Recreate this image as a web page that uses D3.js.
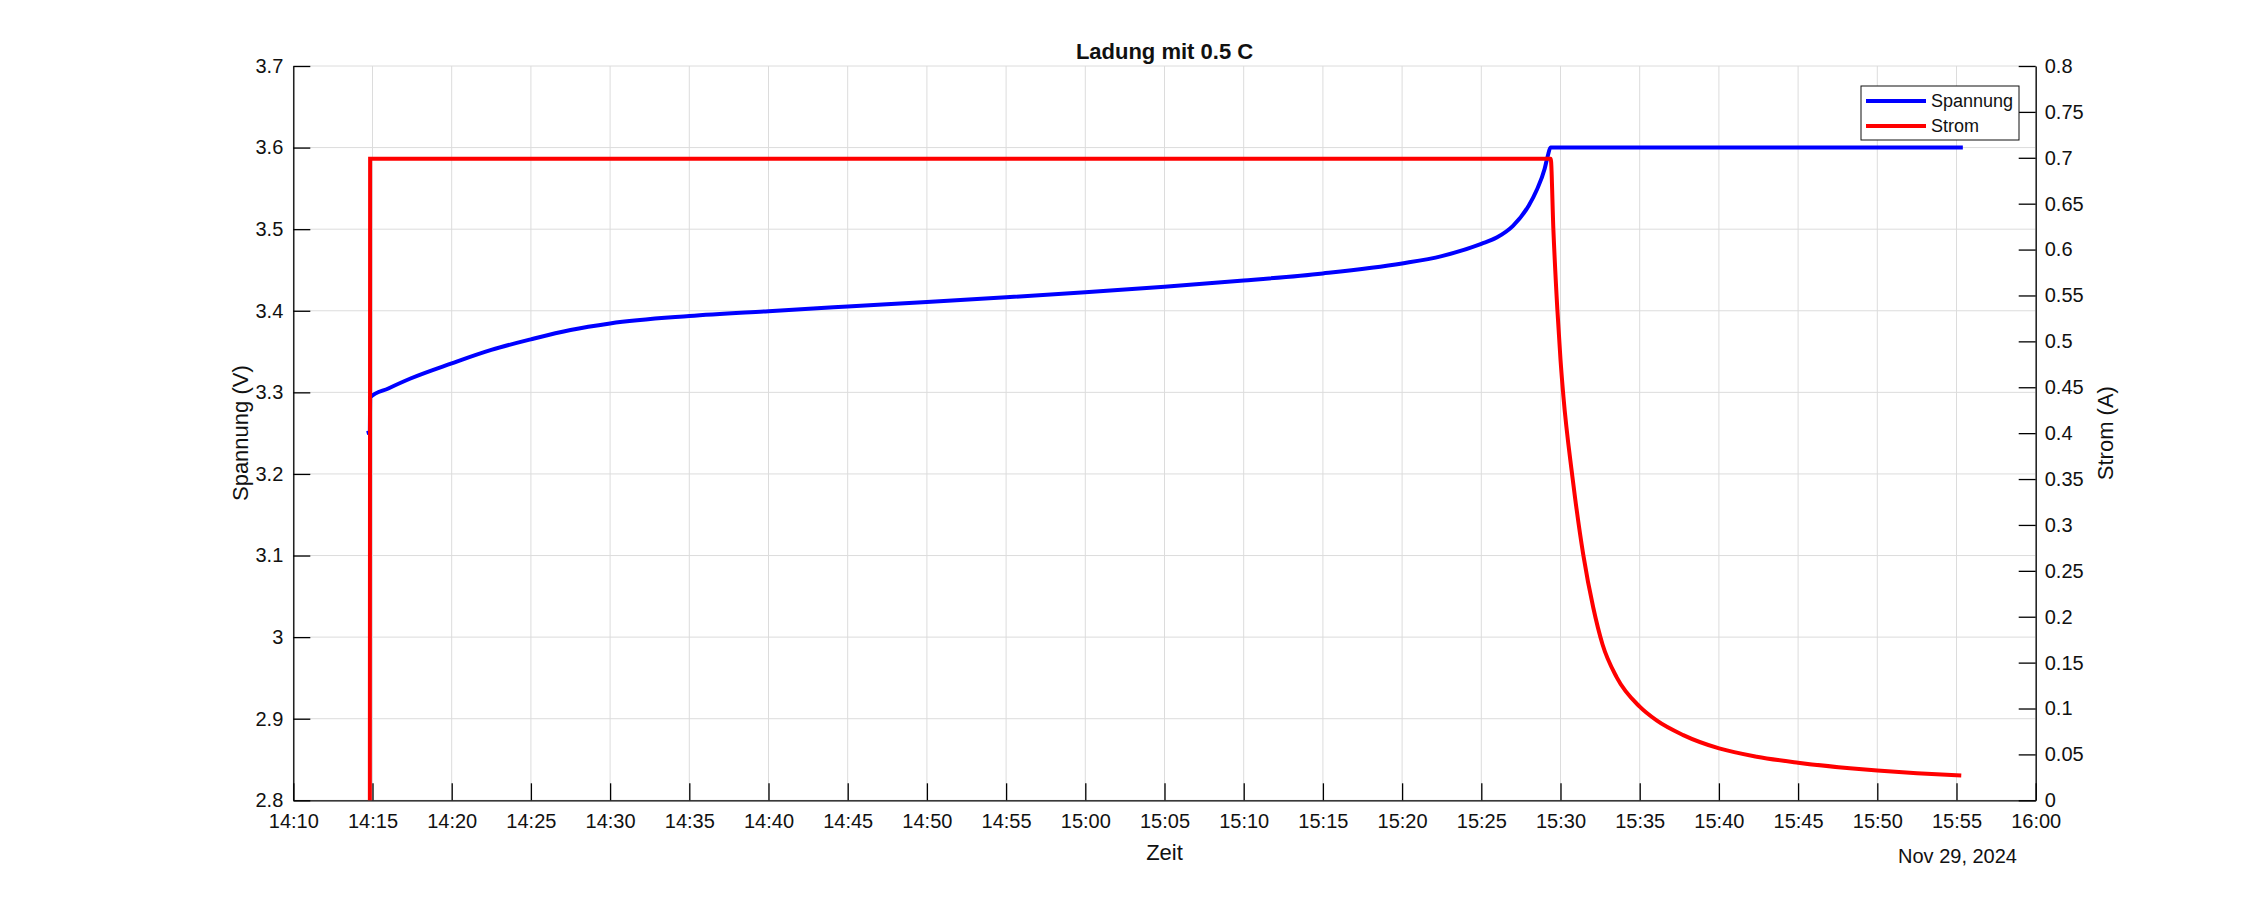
<!DOCTYPE html>
<html>
<head>
<meta charset="utf-8">
<script src="https://cdn.jsdelivr.net/npm/d3@7"></script>
<style>
  html, body { margin: 0; padding: 0; background: #fff; }
  svg { display: block; font-family: "Liberation Sans", Arial, Helvetica, sans-serif; }
</style>
</head>
<body>
<svg id="chart" width="2250" height="900"></svg>
<script>
// ---------- data ----------
const chartTitle = "Ladung mit 0.5 C";
const dateLabel = "Nov 29, 2024";
const xLabel = "Zeit";
const yLeftLabel = "Spannung (V)";
const yRightLabel = "Strom (A)";
const seriesNames = ["Spannung", "Strom"];

const voltTimes = ["14:14:38","14:14:46","14:14:50","14:14:51","14:16:00","14:17:24","14:20:00","14:22:30","14:25:00","14:27:30",
  "14:30:00","14:35:00","14:40:00","14:45:00","14:50:00","14:55:00","15:00:00","15:05:00","15:10:00",
  "15:15:00","15:20:00","15:22:30","15:25:00","15:26:00","15:27:00","15:28:00","15:28:30","15:29:00",
  "15:29:12","15:29:22","15:55:24"];
const voltValues = [3.250,3.251,3.252,3.294,3.3048,3.317,3.3355,3.352,3.365,3.3765,
  3.3845,3.3935,3.3995,3.4052,3.4108,3.4165,3.4228,3.4295,3.4370,
  3.4458,3.458,3.467,3.482,3.490,3.504,3.529,3.548,3.574,
  3.590,3.600,3.600];

const currTimes = ["14:14:50","14:14:51","15:29:23","15:29:33","15:29:48","15:30:00","15:30:11","15:30:44",
  "15:30:55","15:31:26","15:32:04","15:32:39","15:33:33","15:35:00","15:36:04","15:37:45","15:40:01",
  "15:42:23","15:45:00","15:48:16","15:50:00","15:52:30","15:55:18"];
const currValues = [0,0.699,0.699,0.622,0.535,0.480,0.440,0.355,
  0.330,0.268,0.210,0.170,0.134,0.102,0.087,0.071,0.0565,
  0.0475,0.041,0.035,0.0325,0.0295,0.027];

const xDomain = ["14:10:00","16:00:00"];
const leftTicks = [2.8,2.9,3.0,3.1,3.2,3.3,3.4,3.5,3.6,3.7];
const leftTickLabels = ["2.8","2.9","3","3.1","3.2","3.3","3.4","3.5","3.6","3.7"];
const rightTicks = [0,0.05,0.1,0.15,0.2,0.25,0.3,0.35,0.4,0.45,0.5,0.55,0.6,0.65,0.7,0.75,0.8];
const rightTickLabels = ["0","0.05","0.1","0.15","0.2","0.25","0.3","0.35","0.4","0.45","0.5","0.55","0.6","0.65","0.7","0.75","0.8"];

// ---------- layout ----------
const svg = d3.select("#chart");
const L = 293.3, R = 2035.7, T = 66, B = 800.3;
const parse = d3.timeParse("%Y-%m-%d %H:%M:%S");
const toDate = s => parse("2024-11-29 " + s);

const x = d3.scaleTime().domain(xDomain.map(toDate)).range([L, R]);
const yL = d3.scaleLinear().domain([2.8, 3.7]).range([B, T]);
const yR = d3.scaleLinear().domain([0, 0.8]).range([B, T]);
const xTicks = d3.timeMinute.every(5).range(toDate("14:10:00"), d3.timeSecond.offset(toDate("16:00:00"), 1));
const fmt = d3.timeFormat("%H:%M");

const gridColor = "#dcdcdc";
// grid
const grid = svg.append("g");
grid.selectAll("line.gx").data(xTicks).join("line")
  .attr("x1", d => x(d)).attr("x2", d => x(d)).attr("y1", T).attr("y2", B)
  .attr("stroke", gridColor).attr("stroke-width", 1);
grid.selectAll("line.gy").data(leftTicks).join("line")
  .attr("x1", L).attr("x2", R).attr("y1", d => yL(d)).attr("y2", d => yL(d))
  .attr("stroke", gridColor).attr("stroke-width", 1);

// axes
const tickLen = 17;
const xAxis = d3.axisBottom(x).tickValues(xTicks).tickFormat(fmt).tickSizeInner(-tickLen).tickSizeOuter(0).tickPadding(14);
const gx = svg.append("g").attr("transform", `translate(0,${B})`).call(xAxis);
const yAxisL = d3.axisLeft(yL).tickValues(leftTicks).tickFormat((d,i) => leftTickLabels[i]).tickSizeInner(-tickLen).tickSizeOuter(0).tickPadding(10);
const gyl = svg.append("g").attr("transform", `translate(${L},0)`).call(yAxisL);
const yAxisR = d3.axisRight(yR).tickValues(rightTicks).tickFormat((d,i) => rightTickLabels[i]).tickSizeInner(-tickLen).tickSizeOuter(0).tickPadding(9);
const gyr = svg.append("g").attr("transform", `translate(${R},0)`).call(yAxisR);

[gx, gyl, gyr].forEach(g => {
  g.selectAll("path.domain").attr("stroke", "#000").attr("stroke-width", 1.3);
  g.selectAll(".tick line").attr("stroke", "#000").attr("stroke-width", 1.3);
  g.selectAll(".tick text").attr("fill", "#111").style("font-size", "20px")
    .style("font-family", '"Liberation Sans", Arial, sans-serif');
});
gx.selectAll(".tick text").attr("dy", "0.71em");

// lines
const vData = voltTimes.map((t, i) => ({t: toDate(t), v: voltValues[i]}));
const cData = currTimes.map((t, i) => ({t: toDate(t), v: currValues[i]}));
const lineV = d3.line().x(d => x(d.t)).y(d => yL(d.v)).curve(d3.curveMonotoneX);
const lineC = d3.line().x(d => x(d.t)).y(d => yR(d.v)).curve(d3.curveMonotoneX);

svg.append("path").datum(vData).attr("d", lineV)
  .attr("fill", "none").attr("stroke", "#0000ff").attr("stroke-width", 4).attr("stroke-linejoin", "round");
svg.append("path").datum(cData).attr("d", lineC)
  .attr("fill", "none").attr("stroke", "#ff0000").attr("stroke-width", 4).attr("stroke-linejoin", "miter");

// title and labels
svg.append("text").attr("x", (L + R) / 2).attr("y", 59).attr("text-anchor", "middle")
  .style("font-size", "22px").style("font-weight", "bold").attr("fill", "#111").text(chartTitle);
svg.append("text").attr("x", (L + R) / 2).attr("y", 860).attr("text-anchor", "middle")
  .style("font-size", "22px").attr("fill", "#111").text(xLabel);
svg.append("text").attr("x", 2017).attr("y", 863).attr("text-anchor", "end")
  .style("font-size", "20px").attr("fill", "#111").text(dateLabel);
svg.append("text").attr("transform", `translate(248,${(T + B) / 2}) rotate(-90)`).attr("text-anchor", "middle")
  .style("font-size", "22px").attr("fill", "#111").text(yLeftLabel);
svg.append("text").attr("transform", `translate(2113,${(T + B) / 2}) rotate(-90)`).attr("text-anchor", "middle")
  .style("font-size", "22px").attr("fill", "#111").text(yRightLabel);

// legend
const lg = svg.append("g");
const lgX = 1861, lgY = 86, lgW = 158, lgH = 54;
lg.append("rect").attr("x", lgX).attr("y", lgY).attr("width", lgW).attr("height", lgH)
  .attr("fill", "#fff").attr("stroke", "#111").attr("stroke-width", 1);
const lgColors = ["#0000ff", "#ff0000"];
seriesNames.forEach((name, i) => {
  const yy = lgY + 15 + i * 25;
  lg.append("line").attr("x1", lgX + 5).attr("x2", lgX + 65).attr("y1", yy).attr("y2", yy)
    .attr("stroke", lgColors[i]).attr("stroke-width", 4);
  lg.append("text").attr("x", lgX + 70).attr("y", yy).attr("dy", "0.35em")
    .style("font-size", "18px").attr("fill", "#111").text(name);
});
</script>
</body>
</html>
